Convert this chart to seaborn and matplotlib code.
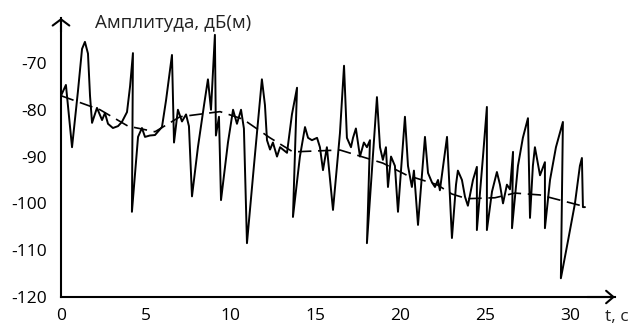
import matplotlib
matplotlib.use("Agg")
import matplotlib.pyplot as plt
import seaborn as sns

# Measured signal (time in seconds, amplitude in dB(m))
time_s = [0.00, 0.29, 0.65, 1.00, 1.24, 1.41, 1.59, 1.71, 1.83, 2.12, 2.42, 2.59, 2.77,
          3.06, 3.36, 3.59, 3.89, 4.07, 4.24, 4.18, 4.54, 4.77, 4.95, 5.24, 5.54, 5.95,
          6.19, 6.54, 6.66, 6.89, 7.13, 7.37, 7.54, 7.72, 8.07, 8.43, 8.66, 8.84, 9.07,
          9.13, 9.31, 9.43, 9.84, 10.14, 10.37, 10.61, 10.78, 10.96, 11.37, 11.84, 12.02,
          12.14, 12.32, 12.49, 12.73, 12.91, 13.08, 13.32, 13.61, 13.91, 13.67, 14.08,
          14.38, 14.56, 14.79, 15.09, 15.26, 15.44, 15.67, 16.03, 16.44, 16.68, 16.85,
          17.09, 17.21, 17.38, 17.62, 17.85, 18.03, 18.21, 18.03, 18.62, 18.80, 18.97,
          19.15, 19.27, 19.45, 19.68, 19.86, 20.27, 20.45, 20.68, 20.80, 21.04, 21.45,
          21.63, 21.86, 22.04, 22.22, 22.33, 22.75, 23.04, 23.28, 23.39, 23.63, 23.81,
          23.98, 24.28, 24.51, 24.51, 24.87, 25.10, 25.10, 25.40, 25.69, 25.87, 26.05,
          26.28, 26.46, 26.64, 26.58, 26.93, 27.22, 27.52, 27.64, 27.81, 27.93, 28.23,
          28.52, 28.52, 28.82, 29.17, 29.58, 29.46, 29.88, 30.29, 30.58, 30.70, 30.76,
          30.88]
amp_db = [-77.0, -74.7, -88.0, -76.0, -67.0, -65.5, -68.0, -77.0, -82.8, -79.6, -82.2, -80.7, -83.0,
          -83.9, -83.5, -82.6, -80.5, -75.0, -67.9, -101.8, -85.8, -83.9, -85.8, -85.5, -85.4, -83.7,
          -78.0, -68.3, -87.0, -80.0, -82.5, -81.0, -83.5, -98.5, -88.0, -79.0, -73.5, -80.0, -64.0,
          -85.5, -81.5, -99.3, -87.0, -80.0, -83.0, -80.0, -84.0, -108.5, -92.0, -73.5, -79.0,
          -86.5, -88.5, -87.0, -90.0, -88.0, -88.5, -89.2, -81.0, -75.3, -102.9, -90.0,
          -83.7, -86.0, -86.5, -86.0, -88.0, -92.9, -88.0, -101.4, -85.0, -70.6, -86.0,
          -88.0, -86.0, -84.0, -90.0, -87.0, -88.0, -86.5, -108.5, -77.3, -88.0, -90.7,
          -88.0, -96.5, -90.0, -92.0, -101.8, -81.5, -92.0, -96.5, -93.0, -104.6, -85.8,
          -93.5, -95.5, -96.5, -95.0, -97.2, -85.8, -107.4, -96.0, -93.0, -95.0, -98.6,
          -100.5, -95.0, -92.2, -105.7, -90.0, -79.4, -105.7, -97.5, -93.3, -96.0, -100.0,
          -96.0, -97.0, -89.0, -105.3, -92.0, -86.0, -81.8, -103.1, -92.0, -88.0, -94.0,
          -91.2, -105.3, -95.0, -88.0, -82.6, -116.0, -108.0, -100.0, -92.0, -90.3, -100.8,
          -100.8]

# Trend (dashed)
trend_time_s = [0.00, 2.30, 3.95, 5.54, 7.01, 9.37, 10.72, 12.32, 13.67, 16.44, 18.97,
                20.39, 22.16, 23.04, 23.92, 25.57, 26.75, 28.23, 29.40, 30.88]
trend_db = [-77.0, -80.0, -83.5, -84.7, -81.5, -80.4, -82.0, -86.0, -89.0, -88.6, -91.4,
            -94.0, -96.0, -98.0, -99.0, -98.8, -97.8, -98.2, -99.3, -100.7]

x_ticks = [0, 5, 10, 15, 20, 25, 30]
y_ticks = [-120, -110, -100, -90, -80, -70]
y_title = "Амплитуда, дБ(м)"
x_title = "t, c"

sns.set_style("white")
plt.rcParams["font.family"] = ["Open Sans", "DejaVu Sans"]
plt.rcParams["axes.unicode_minus"] = False

W, H = 633, 328
fig = plt.figure(figsize=(W / 100, H / 100), dpi=100)
ax = fig.add_axes([61 / W, 31 / H, 554 / W, 279 / H])

sns.lineplot(x=time_s, y=amp_db, sort=False, estimator=None, color="black",
             lw=1.4, solid_joinstyle="round", ax=ax)
sns.lineplot(x=trend_time_s, y=trend_db, sort=False, estimator=None, color="black",
             lw=1.2, linestyle=(0, (8, 4)), ax=ax)

ax.set_xlim(0, 32.65)
ax.set_ylim(-120, -60.4)
ax.set_xticks(x_ticks)
ax.set_yticks(y_ticks)
ax.set_xlabel("")
ax.set_ylabel("")
sns.despine(ax=ax)
for s in ["left", "bottom"]:
    ax.spines[s].set_linewidth(1.5)
    ax.spines[s].set_color("black")
ax.tick_params(axis="both", direction="inout", length=8.5, width=1.4,
               colors="black", labelsize=12.5)
ax.tick_params(axis="y", pad=6)
ax.tick_params(axis="x", pad=4)
ax.grid(False)

ax.annotate("", xy=(1.0, 0), xycoords="axes fraction", xytext=(0.95, 0),
            arrowprops=dict(arrowstyle="->,head_length=0.35,head_width=0.3", lw=1.5,
                            color="black", mutation_scale=15, shrinkA=0, shrinkB=0),
            annotation_clip=False)
ax.annotate("", xy=(0, 1.0), xycoords="axes fraction", xytext=(0, 0.95),
            arrowprops=dict(arrowstyle="->,head_length=0.3,head_width=0.4", lw=1.5,
                            color="black", mutation_scale=15, shrinkA=0, shrinkB=0),
            annotation_clip=False)

fig.text(95 / W, 1 - 23 / H, y_title, ha="left", va="center", fontsize=13.5,
         color="#222222")
fig.text(605 / W, 1 - 317 / H, x_title, ha="left", va="center", fontsize=12.5,
         color="#222222")

fig.savefig("out.png", dpi=100)
